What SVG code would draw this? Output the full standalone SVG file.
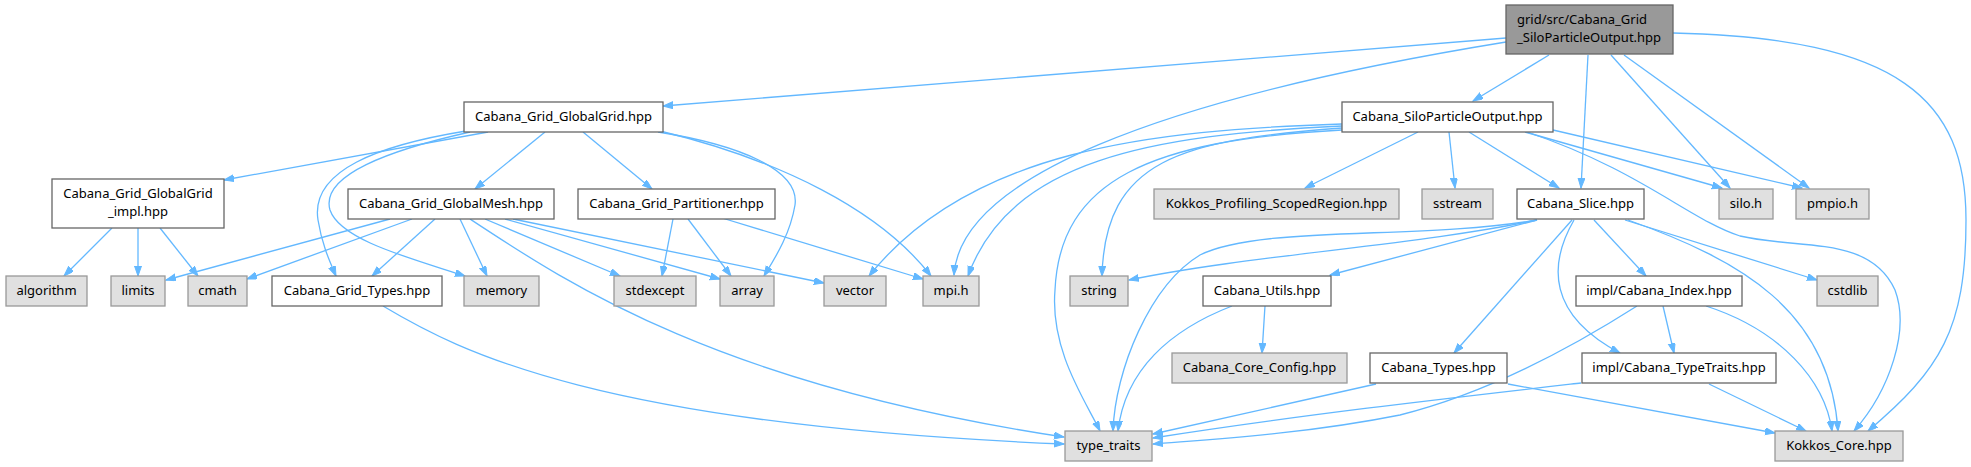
<svg xmlns="http://www.w3.org/2000/svg" width="1971" height="467" viewBox="0 0 1971 467">
<style>
.n rect{stroke-width:1.3}
.w rect{fill:#ffffff;stroke:#666666}
.g rect{fill:#e0e0e0;stroke:#999999}
.r rect{fill:#999999;stroke:#666666}
text{font-family:"Noto Sans","DejaVu Sans",sans-serif;font-size:13px;fill:#000}
.c{text-anchor:middle}
#edges path{fill:none;stroke:#63b8ff;stroke-width:1.3;marker-end:url(#ah)}
</style>
<defs>
<marker id="ah" markerUnits="userSpaceOnUse" markerWidth="11" markerHeight="8" refX="10" refY="3.5" orient="auto" viewBox="0 0 11 8">
<path d="M0,0 L10,3.5 L0,7 z" fill="#63b8ff" stroke="#63b8ff" stroke-width="1"/>
</marker>
</defs>
<rect width="1971" height="467" fill="#ffffff"/>
<g id="edges">
<path d="M1506,38 L663,106"/>
<path d="M1506,42 C1150,100 960,180 954,275"/>
<path d="M1549,55 L1473,101"/>
<path d="M1588,55 L1581,188"/>
<path d="M1611,55 L1730,188"/>
<path d="M1624,55 L1809,188"/>
<path d="M1673,33 C1900,38 1966,100 1966,220 C1966,330 1940,370 1868,431"/>
<path d="M1418,132 L1305,188"/>
<path d="M1449,132 L1455,188"/>
<path d="M1469,132 L1559,188"/>
<path d="M1525,132 L1722,188"/>
<path d="M1553,130 L1802,188"/>
<path d="M1527,132 C1640,170 1690,220 1740,236 C1800,250 1870,235 1895,290 C1910,330 1890,390 1854,431"/>
<path d="M1342,124 C1150,130 970,150 869,276"/>
<path d="M1342,126 C1150,135 1010,160 968,276"/>
<path d="M1342,128 C1180,140 1105,160 1102,276"/>
<path d="M1342,130 C1150,140 1060,180 1055,290 C1050,350 1085,400 1100,431"/>
<path d="M1537,220 C1420,245 1250,255 1129,280"/>
<path d="M1537,220 C1420,240 1260,225 1200,255 C1150,285 1115,370 1113,431"/>
<path d="M1537,220 L1330,275"/>
<path d="M1572,220 L1454,353"/>
<path d="M1574,220 C1548,265 1548,315 1620,353"/>
<path d="M1594,220 L1646,276"/>
<path d="M1625,220 L1817,280"/>
<path d="M1628,220 C1740,260 1830,310 1838,431"/>
<path d="M1265,306 L1262,353"/>
<path d="M1232,306 C1170,330 1125,370 1118,431"/>
<path d="M1376,384 L1153,434"/>
<path d="M1508,384 L1775,433"/>
<path d="M1663,306 L1674,353"/>
<path d="M1637,306 C1560,355 1480,395 1400,415 C1300,435 1200,440 1153,444"/>
<path d="M1706,306 C1780,330 1825,380 1832,431"/>
<path d="M1581,383 C1450,398 1300,415 1153,438"/>
<path d="M1709,384 L1806,431"/>
<path d="M488,132 L224,180"/>
<path d="M466,131 C380,145 310,170 318,220 C322,245 330,262 336,276"/>
<path d="M470,132 C390,150 320,175 330,210 C340,240 410,258 465,276"/>
<path d="M545,132 L475,189"/>
<path d="M583,132 L652,189"/>
<path d="M658,132 C740,145 800,170 795,205 C790,235 775,258 764,276"/>
<path d="M660,131 C780,160 880,210 931,276"/>
<path d="M112,228 L64,276"/>
<path d="M138,228 L138,276"/>
<path d="M160,228 L198,276"/>
<path d="M390,219 L166,280"/>
<path d="M412,219 L247,279"/>
<path d="M435,219 L372,276"/>
<path d="M460,219 L487,276"/>
<path d="M470,219 C570,285 720,385 1064,437"/>
<path d="M485,219 L620,276"/>
<path d="M505,219 L720,279"/>
<path d="M513,219 L824,283"/>
<path d="M383,306 C460,352 600,425 1064,444"/>
<path d="M673,219 L662,276"/>
<path d="M688,219 L731,276"/>
<path d="M722,218 L923,279"/>
</g>
<g id="root" class="n r"><rect x="1506" y="5" width="167" height="49"/><text x="1517" y="24">grid/src/Cabana_Grid</text><text x="1517" y="42">_SiloParticleOutput.hpp</text></g>
<g id="globalgrid" class="n w"><rect x="464" y="102" width="199" height="30"/><text class="c" x="563.5" y="121">Cabana_Grid_GlobalGrid.hpp</text></g>
<g id="spo" class="n w"><rect x="1342" y="102" width="211" height="30"/><text class="c" x="1447.5" y="121">Cabana_SiloParticleOutput.hpp</text></g>
<g id="ggimpl" class="n w"><rect x="52" y="179" width="172" height="49"/><text class="c" x="138" y="198">Cabana_Grid_GlobalGrid</text><text class="c" x="138" y="216">_impl.hpp</text></g>
<g id="globalmesh" class="n w"><rect x="348" y="189" width="206" height="30"/><text class="c" x="451" y="208">Cabana_Grid_GlobalMesh.hpp</text></g>
<g id="partitioner" class="n w"><rect x="578" y="189" width="197" height="30"/><text class="c" x="676.5" y="208">Cabana_Grid_Partitioner.hpp</text></g>
<g id="kpsr" class="n g"><rect x="1154" y="189" width="245" height="30"/><text class="c" x="1276.5" y="208">Kokkos_Profiling_ScopedRegion.hpp</text></g>
<g id="sstream" class="n g"><rect x="1422" y="189" width="71" height="30"/><text class="c" x="1457.5" y="208">sstream</text></g>
<g id="slice" class="n w"><rect x="1517" y="189" width="127" height="30"/><text class="c" x="1580.5" y="208">Cabana_Slice.hpp</text></g>
<g id="siloh" class="n g"><rect x="1719" y="189" width="54" height="30"/><text class="c" x="1746" y="208">silo.h</text></g>
<g id="pmpioh" class="n g"><rect x="1796" y="189" width="73" height="30"/><text class="c" x="1832.5" y="208">pmpio.h</text></g>
<g id="algorithm" class="n g"><rect x="6" y="276" width="81" height="30"/><text class="c" x="46.5" y="295">algorithm</text></g>
<g id="limits" class="n g"><rect x="111" y="276" width="54" height="30"/><text class="c" x="138" y="295">limits</text></g>
<g id="cmath" class="n g"><rect x="188" y="276" width="59" height="30"/><text class="c" x="217.5" y="295">cmath</text></g>
<g id="gridtypes" class="n w"><rect x="272" y="276" width="170" height="30"/><text class="c" x="357" y="295">Cabana_Grid_Types.hpp</text></g>
<g id="memory" class="n g"><rect x="464" y="276" width="75" height="30"/><text class="c" x="501.5" y="295">memory</text></g>
<g id="stdexcept" class="n g"><rect x="614" y="276" width="82" height="30"/><text class="c" x="655" y="295">stdexcept</text></g>
<g id="array" class="n g"><rect x="720" y="276" width="54" height="30"/><text class="c" x="747" y="295">array</text></g>
<g id="vector" class="n g"><rect x="824" y="276" width="62" height="30"/><text class="c" x="855" y="295">vector</text></g>
<g id="mpih" class="n g"><rect x="923" y="276" width="56" height="30"/><text class="c" x="951" y="295">mpi.h</text></g>
<g id="string" class="n g"><rect x="1070" y="276" width="58" height="30"/><text class="c" x="1099" y="295">string</text></g>
<g id="utils" class="n w"><rect x="1203" y="276" width="128" height="30"/><text class="c" x="1267" y="295">Cabana_Utils.hpp</text></g>
<g id="index" class="n w"><rect x="1576" y="276" width="166" height="30"/><text class="c" x="1659" y="295">impl/Cabana_Index.hpp</text></g>
<g id="cstdlib" class="n g"><rect x="1817" y="276" width="61" height="30"/><text class="c" x="1847.5" y="295">cstdlib</text></g>
<g id="coreconfig" class="n g"><rect x="1172" y="353" width="175" height="30"/><text class="c" x="1259.5" y="372">Cabana_Core_Config.hpp</text></g>
<g id="types" class="n w"><rect x="1370" y="353" width="137" height="30"/><text class="c" x="1438.5" y="372">Cabana_Types.hpp</text></g>
<g id="typetraitsimpl" class="n w"><rect x="1582" y="353" width="194" height="30"/><text class="c" x="1679" y="372">impl/Cabana_TypeTraits.hpp</text></g>
<g id="type_traits" class="n g"><rect x="1065" y="431" width="87" height="30"/><text class="c" x="1108.5" y="450">type_traits</text></g>
<g id="kokkoscore" class="n g"><rect x="1775" y="431" width="128" height="30"/><text class="c" x="1839" y="450">Kokkos_Core.hpp</text></g>
</svg>
